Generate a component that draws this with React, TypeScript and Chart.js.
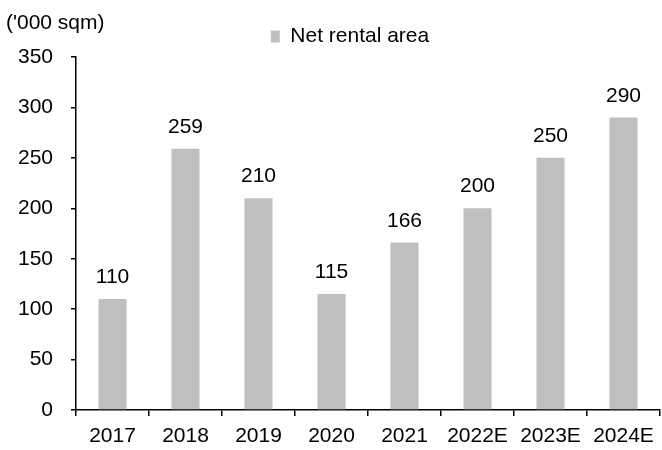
import React, { useEffect, useRef } from "react";
import { Chart, registerables } from "chart.js";

Chart.register(...registerables);

const categories = ["2017", "2018", "2019", "2020", "2021", "2022E", "2023E", "2024E"];
const netRentalArea = [110, 259, 210, 115, 166, 200, 250, 290];
const seriesLabel = "Net rental area";
const unitLabel = "('000 sqm)";
const yMin = 0;
const yMax = 350;
const yStep = 50;

const FONT = "'Liberation Sans', Arial, sans-serif";
const BAR_COLOR = "#BFBFBF";
const LEGEND_CENTER_X = 350;

const unitPlugin = {
  id: "unitLabel",
  afterDraw(chart: any) {
    const ctx = chart.ctx;
    ctx.save();
    ctx.font = `21px ${FONT}`;
    ctx.fillStyle = "#000";
    ctx.textAlign = "left";
    ctx.textBaseline = "alphabetic";
    ctx.fillText(unitLabel, 6, 29);
    ctx.restore();
  },
};

const legendShiftPlugin = {
  id: "legendShift",
  afterLayout(chart: any) {
    const lg = chart.legend;
    if (!lg) return;
    const delta = LEGEND_CENTER_X - (lg.left + lg.right) / 2;
    lg.left += delta;
    lg.right += delta;
  },
};

const valueLabelPlugin = {
  id: "valueLabels",
  afterDatasetsDraw(chart: any) {
    const ctx = chart.ctx;
    ctx.save();
    ctx.font = `21px ${FONT}`;
    ctx.fillStyle = "#000";
    ctx.textAlign = "center";
    ctx.textBaseline = "alphabetic";
    chart.data.datasets.forEach((ds: any, di: number) => {
      const meta = chart.getDatasetMeta(di);
      meta.data.forEach((bar: any, i: number) => {
        ctx.fillText(String(ds.data[i]), bar.x, bar.y - 16);
      });
    });
    ctx.restore();
  },
};

export default function App() {
  const ref = useRef<HTMLCanvasElement>(null);
  useEffect(() => {
    if (!ref.current) return;
    Chart.defaults.font.family = FONT;
    Chart.defaults.color = "#000";
    const chart = new Chart(ref.current, {
      type: "bar",
      data: {
        labels: categories,
        datasets: [
          {
            label: seriesLabel,
            data: netRentalArea,
            backgroundColor: BAR_COLOR,
            borderWidth: 0,
            categoryPercentage: 1,
            barPercentage: 0.384,
          },
        ],
      },
      options: {
        responsive: false,
        animation: false,
        layout: { padding: { left: 4, right: 2, top: 16, bottom: -7 } },
        plugins: {
          legend: {
            display: true,
            position: "top",
            labels: {
              boxWidth: 9,
              boxHeight: 12,
              padding: 10,
              color: "#000",
              font: { size: 21, family: FONT },
            },
          },
          tooltip: { enabled: false },
          title: { display: false },
        },
        scales: {
          x: {
            afterFit: (scale: any) => {
              scale.paddingLeft = 0;
              scale.paddingRight = 0;
            },
            grid: {
              display: true,
              drawOnChartArea: false,
              drawTicks: true,
              tickLength: 6,
              color: "#000",
              lineWidth: 1.5,
              offset: true,
            },
            border: { display: true, color: "#000", width: 1.5 },
            ticks: {
              color: "#000",
              font: { size: 21, family: FONT, lineHeight: 1 },
              padding: 10,
              maxRotation: 0,
            },
          },
          y: {
            min: yMin,
            max: yMax,
            afterFit: (scale: any) => {
              scale.width = 72;
            },
            grid: {
              display: true,
              drawOnChartArea: false,
              drawTicks: true,
              tickLength: 5,
              color: "#000",
              lineWidth: 1.5,
            },
            border: { display: true, color: "#000", width: 1.5 },
            ticks: {
              stepSize: yStep,
              color: "#000",
              font: { size: 21, family: FONT },
              padding: 18,
            },
          },
        },
      },
      plugins: [unitPlugin, legendShiftPlugin, valueLabelPlugin],
    });
    return () => chart.destroy();
  }, []);
  return (
    <div style={{ position: "fixed", left: 0, top: 0, width: 662, height: 450, background: "#fff" }}>
      <canvas ref={ref} width={662} height={450} />
    </div>
  );
}
